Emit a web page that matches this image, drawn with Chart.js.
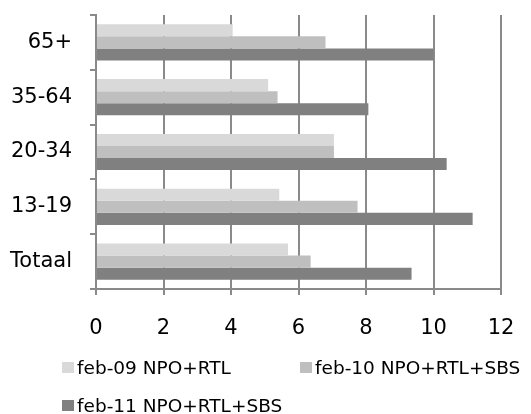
<!DOCTYPE html>
<html>
<head>
<meta charset="utf-8">
<script src="https://cdn.jsdelivr.net/npm/chart.js@4"></script>
<style>
  html, body { margin: 0; padding: 0; background: #fff; }
  #wrap { position: relative; width: 531px; height: 414px; }
  canvas { position: absolute; left: 0; top: 0; }
  .item { position: absolute; display: flex; align-items: center; height: 20px;
          font: 18.5px "DejaVu Sans", Verdana, sans-serif; color: #000; white-space: nowrap; }
  .box { width: 12px; height: 11px; margin-right: 3px; }
</style>
</head>
<body>
<div id="wrap">
  <canvas id="chart" width="531" height="414"></canvas>
  <div id="legend"></div>
</div>
<script>
const categories = ["65+", "35-64", "20-34", "13-19", "Totaal"];
const seriesNames = ["feb-09 NPO+RTL", "feb-10 NPO+RTL+SBS", "feb-11 NPO+RTL+SBS"];
const feb09 = [4.05, 5.1, 7.05, 5.43, 5.69];
const feb10 = [6.8, 5.38, 7.05, 7.75, 6.36];
const feb11 = [10.0, 8.07, 10.39, 11.16, 9.35];
const xTicks = [0, 2, 4, 6, 8, 10, 12];
const colors = ["#D9D9D9", "#BFBFBF", "#808080"];

const gridColor = "#8a8a8a";
const font = { family: "'DejaVu Sans', Verdana, sans-serif", size: 21 };

// drop the extra room Chart.js keeps for edge labels, the layout padding decides
function noEdgePad(s) {
  s.paddingTop = 0; s.paddingBottom = 0;
  s.paddingLeft = 0; s.paddingRight = 0;
}

new Chart(document.getElementById("chart"), {
  type: "bar",
  data: {
    labels: categories,
    datasets: [feb09, feb10, feb11].map((d, i) => ({
      label: seriesNames[i],
      data: d,
      backgroundColor: colors[i],
      borderWidth: 0,
      categoryPercentage: 0.66,
      barPercentage: 1
    }))
  },
  options: {
    indexAxis: "y",
    responsive: false,
    animation: false,
    layout: { padding: { top: 15, right: 30, left: 0, bottom: 0 } },
    plugins: { legend: { display: false }, tooltip: { enabled: false } },
    scales: {
      x: {
        min: 0, max: 12,
        afterBuildTicks: s => { s.ticks = xTicks.map(v => ({ value: v })); },
        afterFit: s => { s.height = 125; noEdgePad(s); },
        grid: { color: gridColor, lineWidth: 2, tickLength: 6, drawTicks: true },
        border: { color: gridColor, width: 2 },
        ticks: { color: "#000", font, padding: 21, maxRotation: 0 }
      },
      y: {
        afterFit: s => { s.width = 96; noEdgePad(s); },
        grid: { drawOnChartArea: false, color: gridColor, lineWidth: 2, tickLength: 6, offset: true },
        border: { color: gridColor, width: 2 },
        ticks: { color: "#000", font, padding: 18 }
      }
    }
  }
});

// legend laid out like the original: two columns, wrapping
const legendPos = [[62, 357], [300, 357], [62, 395]];
const legend = document.getElementById("legend");
seriesNames.forEach((name, i) => {
  const el = document.createElement("div");
  el.className = "item";
  el.style.left = legendPos[i][0] + "px";
  el.style.top = legendPos[i][1] + "px";
  el.innerHTML = `<span class="box" style="background:${colors[i]}"></span>${name}`;
  legend.appendChild(el);
});
</script>
</body>
</html>
